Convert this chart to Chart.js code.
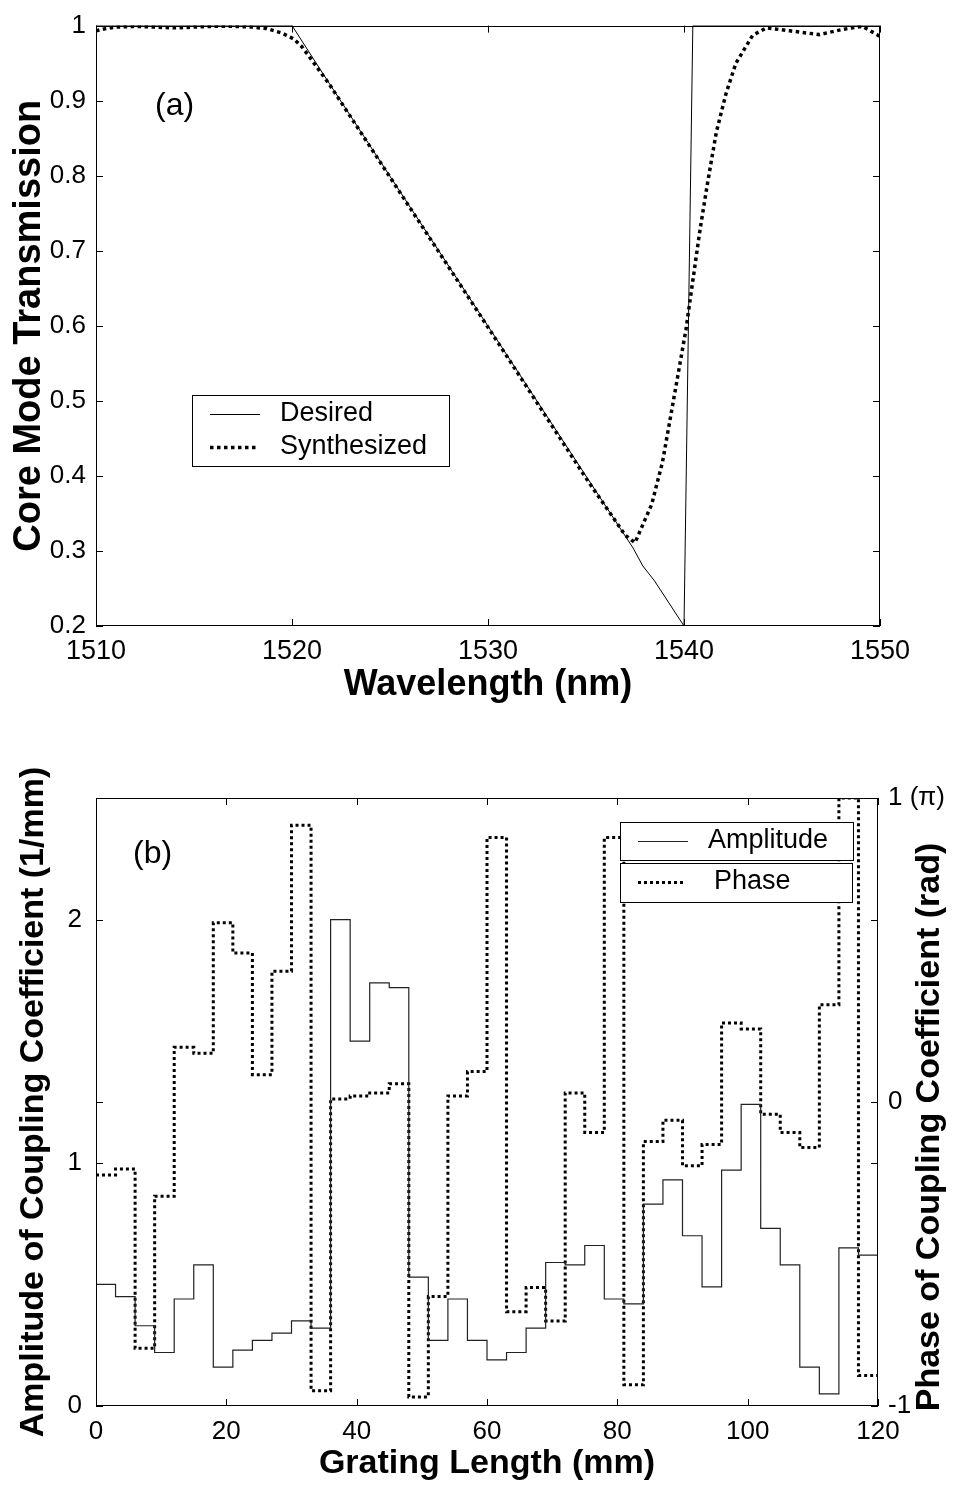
<!DOCTYPE html>
<html>
<head>
<meta charset="utf-8">
<script src="https://cdn.jsdelivr.net/npm/chart.js@4.4.1/dist/chart.umd.min.js"></script>
<style>
  body { margin: 0; background: #fff; }
  canvas { display: block; }
</style>
</head>
<body>
<canvas id="chartA" width="955" height="720"></canvas>
<canvas id="chartB" width="955" height="768"></canvas>
<script>
// (a) core mode transmission spectrum
const desiredWavelength = [1510, 1520, 1521.9, 1537.4, 1537.9, 1538.5, 1540, 1540.45, 1550];
const desiredTransmission = [1, 1, 0.923, 0.304, 0.28, 0.26, 0.2, 1, 1];

const synthWavelength = [1510, 1510.5, 1511, 1512, 1513, 1514, 1515, 1516, 1517, 1518, 1518.7,
  1519.5, 1520.1, 1520.5, 1520.9, 1521.9, 1525, 1530, 1535, 1537, 1537.5, 1538.35, 1538.9,
  1539.35, 1539.77, 1540.1, 1540.8, 1541.2, 1541.65, 1542.15, 1542.65, 1543.5, 1544.2,
  1545.4, 1546.9, 1548.1, 1549.1, 1549.85, 1550];
const synthTransmission = [0.993, 0.996, 0.998, 0.999, 0.998, 0.997, 0.998, 0.999, 0.999, 0.998, 0.996,
  0.99, 0.982, 0.972, 0.958, 0.922, 0.798, 0.598, 0.397, 0.321, 0.311, 0.362, 0.418,
  0.484, 0.546, 0.595, 0.725, 0.79, 0.858, 0.91, 0.95, 0.987, 0.997,
  0.993, 0.988, 0.995, 0.999, 0.988, 0.985];

const wavelengthTicks = [1510, 1520, 1530, 1540, 1550];
const transmissionTicks = [0.2, 0.3, 0.4, 0.5, 0.6, 0.7, 0.8, 0.9, 1];

// (b) grating profile, one value per 3 mm section
const sectionLength = 3;
const amplitude = [0.50, 0.45, 0.33, 0.22, 0.44, 0.58, 0.16, 0.23, 0.27, 0.30,
  0.35, 0.32, 2.00, 1.50, 1.74, 1.72, 0.53, 0.27, 0.44, 0.27,
  0.19, 0.22, 0.32, 0.59, 0.58, 0.66, 0.44, 0.42, 0.83, 0.93,
  0.70, 0.49, 0.97, 1.24, 0.73, 0.58, 0.16, 0.05, 0.65, 0.62];
const phase = [-0.24, -0.22, -0.81, -0.31, 0.18, 0.16, 0.59, 0.49, 0.09, 0.43,
  0.91, -0.95, 0.01, 0.02, 0.03, 0.06, -0.97, -0.64, 0.02, 0.10,
  0.87, -0.69, -0.61, -0.72, 0.03, -0.10, 0.87, -0.93, -0.13, -0.06,
  -0.21, -0.14, 0.26, 0.24, -0.04, -0.10, -0.15, 0.32, 1.00, -0.90];

const lengthTicks = [0, 20, 40, 60, 80, 100, 120];
const amplitudeTicks = [0, 1, 2];
const phaseTicks = [-1, 0, 1];

const FONT = "'Liberation Sans', Arial, Helvetica, sans-serif";
Chart.defaults.font.family = FONT;
Chart.defaults.color = '#000';

function points(xs, ys) {
  return xs.map((x, i) => ({ x: x, y: ys[i] }));
}
function steps(values) {
  const pts = values.map((v, i) => ({ x: i * sectionLength, y: v }));
  pts.push({ x: values.length * sectionLength, y: values[values.length - 1] });
  return pts;
}
function fixTicks(list) {
  return s => { s.ticks = list.map(v => ({ value: v })); };
}

// matlab style frame: full box, inward ticks, panel tag, legend boxes
const framePlugin = {
  id: 'frame',
  afterDatasetsDraw(chart, args, opts) {
    const ctx = chart.ctx;
    const a = chart.chartArea;
    ctx.save();
    ctx.strokeStyle = '#000';
    ctx.lineWidth = 1;
    ctx.setLineDash([]);
    const tl = 7;
    Object.values(chart.scales).forEach(s => {
      s.ticks.forEach(t => {
        const p = Math.round(s.getPixelForValue(t.value)) + 0.5;
        ctx.beginPath();
        if (s.isHorizontal()) {
          ctx.moveTo(p, a.bottom); ctx.lineTo(p, a.bottom - tl);
          ctx.moveTo(p, a.top); ctx.lineTo(p, a.top + tl);
        } else {
          ctx.moveTo(a.left, p); ctx.lineTo(a.left + tl, p);
          ctx.moveTo(a.right, p); ctx.lineTo(a.right - tl, p);
        }
        ctx.stroke();
      });
    });
    ctx.strokeRect(Math.round(a.left) + 0.5, Math.round(a.top) + 0.5,
      Math.round(a.right - a.left) - 1, Math.round(a.bottom - a.top) - 1);

    if (opts.tag) {
      ctx.font = '32px ' + FONT;
      ctx.fillStyle = '#000';
      ctx.textBaseline = 'middle';
      ctx.fillText(opts.tag.text, opts.tag.x, opts.tag.y);
    }

    (opts.legends || []).forEach(box => {
      ctx.fillStyle = '#fff';
      ctx.fillRect(box.x, box.y, box.w, box.h);
      ctx.strokeStyle = '#000';
      ctx.lineWidth = 1;
      ctx.setLineDash([]);
      ctx.strokeRect(box.x + 0.5, box.y + 0.5, box.w, box.h);
      box.rows.forEach(r => {
        const ds = chart.data.datasets[r.dataset];
        ctx.beginPath();
        ctx.strokeStyle = ds.borderColor;
        ctx.lineWidth = ds.borderWidth;
        ctx.setLineDash(ds.borderDash || []);
        ctx.moveTo(r.x0, r.y + 0.5);
        ctx.lineTo(r.x1, r.y + 0.5);
        ctx.stroke();
        ctx.setLineDash([]);
        ctx.fillStyle = '#000';
        ctx.font = '27px ' + FONT;
        ctx.textBaseline = 'middle';
        ctx.fillText(ds.label, r.tx, r.y);
      });
    });

    if (opts.sideTitle) {
      const st = opts.sideTitle;
      ctx.translate(st.x, st.y);
      ctx.rotate(-Math.PI / 2);
      ctx.font = 'bold 34px ' + FONT;
      ctx.fillStyle = '#000';
      ctx.textAlign = 'center';
      ctx.textBaseline = 'middle';
      ctx.fillText(st.text, 0, 0);
    }
    ctx.restore();
  }
};

const noGrid = { display: false, drawTicks: false };

// panel (a)
new Chart(document.getElementById('chartA'), {
  type: 'line',
  data: {
    datasets: [
      { label: 'Desired', data: points(desiredWavelength, desiredTransmission),
        borderColor: '#000', borderWidth: 1, pointRadius: 0, tension: 0 },
      { label: 'Synthesized', data: points(synthWavelength, synthTransmission),
        borderColor: '#000', borderWidth: 3.5, borderDash: [3.5, 3.5], borderCapStyle: 'butt',
        pointRadius: 0, tension: 0 }
    ]
  },
  options: {
    responsive: false,
    animation: false,
    layout: { padding: { top: 18, right: 75, left: 0, bottom: 0 } },
    plugins: {
      legend: { display: false },
      tooltip: { enabled: false },
      frame: {
        tag: { text: '(a)', x: 155, y: 106 },
        legends: [{ x: 192, y: 395, w: 257, h: 71, rows: [
          { dataset: 0, y: 414, x0: 210, x1: 260, tx: 280 },
          { dataset: 1, y: 447, x0: 210, x1: 258, tx: 280 }
        ] }]
      }
    },
    scales: {
      x: {
        type: 'linear', min: 1510, max: 1550,
        grid: noGrid, border: { display: false },
        afterBuildTicks: fixTicks(wavelengthTicks),
        afterFit: s => { s.height = 94; },
        ticks: { font: { size: 27 }, padding: 9, maxRotation: 0, autoSkip: false,
          callback: v => String(v) },
        title: { display: true, text: 'Wavelength (nm)', font: { size: 36, weight: 'bold' },
          padding: { top: 0, bottom: 13 } }
      },
      y: {
        type: 'linear', min: 0.2, max: 1,
        grid: noGrid, border: { display: false },
        afterBuildTicks: fixTicks(transmissionTicks),
        afterFit: s => { s.width = 96; },
        ticks: { font: { size: 26 }, padding: 10, autoSkip: false,
          callback: v => (v === 1 ? '1' : v.toFixed(1)) },
        title: { display: true, text: 'Core Mode Transmission', font: { size: 38, weight: 'bold' },
          padding: { top: 7, bottom: 0 } }
      }
    }
  },
  plugins: [framePlugin]
});

// panel (b)
new Chart(document.getElementById('chartB'), {
  type: 'line',
  data: {
    datasets: [
      { label: 'Amplitude', data: steps(amplitude), yAxisID: 'y', stepped: true,
        borderColor: '#222', borderWidth: 1.2, pointRadius: 0 },
      { label: 'Phase', data: steps(phase), yAxisID: 'y1', stepped: true,
        borderColor: '#000', borderWidth: 3, borderDash: [3, 3], borderCapStyle: 'butt',
        pointRadius: 0 }
    ]
  },
  options: {
    responsive: false,
    animation: false,
    layout: { padding: { top: 78, right: 0, left: 0, bottom: 0 } },
    plugins: {
      legend: { display: false },
      tooltip: { enabled: false },
      frame: {
        tag: { text: '(b)', x: 133, y: 134 },
        legends: [
          { x: 620, y: 102, w: 233, h: 38, rows: [{ dataset: 0, y: 121, x0: 638, x1: 688, tx: 708 }] },
          { x: 620, y: 143, w: 232, h: 39, rows: [{ dataset: 1, y: 162, x0: 638, x1: 685, tx: 714 }] }
        ],
        sideTitle: { text: 'Phase of Coupling Coefficient (rad)', x: 930, y: 407 }
      }
    },
    scales: {
      x: {
        type: 'linear', min: 0, max: 120,
        grid: noGrid, border: { display: false },
        afterBuildTicks: fixTicks(lengthTicks),
        afterFit: s => { s.height = 82; },
        ticks: { font: { size: 26 }, padding: 10, maxRotation: 0, autoSkip: false,
          callback: v => String(v) },
        title: { display: true, text: 'Grating Length (mm)', font: { size: 34, weight: 'bold' },
          padding: { top: 0, bottom: 4 } }
      },
      y: {
        type: 'linear', position: 'left', min: 0, max: 2.5,
        grid: noGrid, border: { display: false },
        afterBuildTicks: fixTicks(amplitudeTicks),
        afterFit: s => { s.width = 96; },
        ticks: { font: { size: 26 }, padding: 14, autoSkip: false },
        title: { display: true, text: 'Amplitude of Coupling Coefficient (1/mm)',
          font: { size: 34, weight: 'bold' }, padding: { top: 13, bottom: 0 } }
      },
      y1: {
        type: 'linear', position: 'right', min: -1, max: 1,
        grid: noGrid, border: { display: false },
        afterBuildTicks: fixTicks(phaseTicks),
        afterFit: s => { s.width = 77; },
        ticks: { font: { size: 26 }, padding: 10, autoSkip: false,
          callback: v => (v === 1 ? '1 (π)' : String(v)) }
      }
    }
  },
  plugins: [framePlugin]
});
</script>
</body>
</html>
